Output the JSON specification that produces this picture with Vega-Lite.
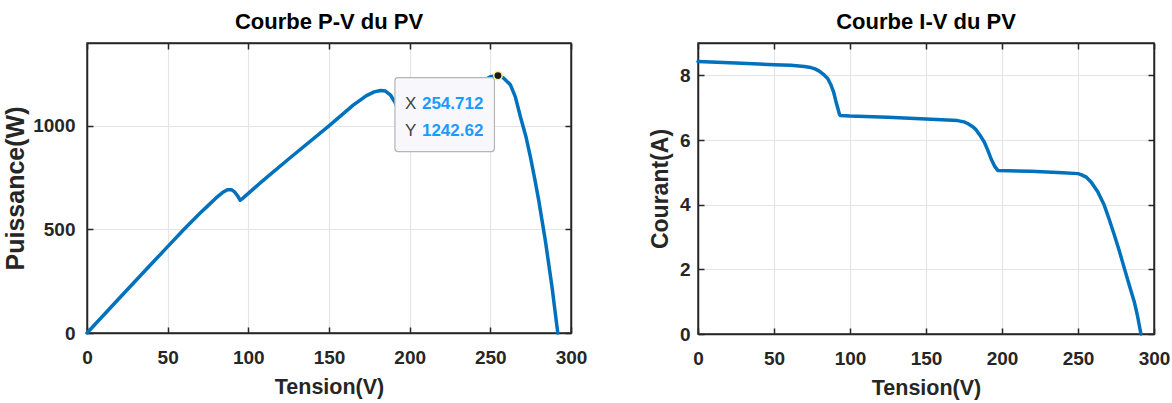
{
  "$schema": "https://vega.github.io/schema/vega-lite/v6.json",
  "background": "white",
  "padding": {"left": 2, "top": 10, "right": 3, "bottom": 0},
  "spacing": 60,
  "config": {
    "view": {"stroke": "#262626", "strokeWidth": 1.5},
    "axis": {
      "domainColor": "#262626", "domainWidth": 1.5,
      "tickColor": "#262626", "tickWidth": 1.5, "tickSize": -6,
      "gridColor": "#e4e4e4", "gridWidth": 1.2, "labelFlush": false,
      "labelFont": "Liberation Sans", "labelFontWeight": "bold", "labelFontSize": 19, "labelColor": "#262626",
      "titleFont": "Liberation Sans", "titleFontWeight": "bold", "titleFontSize": 21.5, "titleColor": "#262626"
    },
    "title": {"font": "Liberation Sans", "fontWeight": "bold", "fontSize": 22, "color": "#000000", "offset": 8}
  },
  "datasets": {
    "pv": [
      {"V": 0, "P": 0}, {"V": 20, "P": 168}, {"V": 40, "P": 334}, {"V": 50, "P": 417}, {"V": 60, "P": 500},
      {"V": 70, "P": 578}, {"V": 75, "P": 615}, {"V": 80, "P": 652}, {"V": 84, "P": 678}, {"V": 87, "P": 692},
      {"V": 89.5, "P": 692}, {"V": 91.5, "P": 681}, {"V": 93.5, "P": 660}, {"V": 95, "P": 641}, {"V": 96.5, "P": 650},
      {"V": 100, "P": 674}, {"V": 107, "P": 722}, {"V": 125, "P": 840}, {"V": 150, "P": 1000}, {"V": 165, "P": 1100},
      {"V": 173, "P": 1145}, {"V": 178, "P": 1164}, {"V": 182, "P": 1171}, {"V": 185, "P": 1168}, {"V": 188, "P": 1150},
      {"V": 191, "P": 1112}, {"V": 194, "P": 1055}, {"V": 197, "P": 1000}, {"V": 200, "P": 1012}, {"V": 225, "P": 1125},
      {"V": 240, "P": 1192}, {"V": 250, "P": 1237}, {"V": 254.712, "P": 1242.62}, {"V": 258, "P": 1232}, {"V": 262.4, "P": 1199},
      {"V": 265.5, "P": 1140}, {"V": 268.6, "P": 1045}, {"V": 272, "P": 950}, {"V": 274.8, "P": 851}, {"V": 277.5, "P": 745},
      {"V": 280, "P": 640}, {"V": 284.1, "P": 446}, {"V": 288.3, "P": 219}, {"V": 291.8, "P": 0}
    ],
    "iv": [
      {"V": 0, "I": 8.43}, {"V": 25, "I": 8.38}, {"V": 50, "I": 8.33}, {"V": 61, "I": 8.31}, {"V": 70, "I": 8.27},
      {"V": 74.3, "I": 8.24}, {"V": 77, "I": 8.2}, {"V": 79.8, "I": 8.13}, {"V": 82.5, "I": 8.03}, {"V": 85.3, "I": 7.9},
      {"V": 87.5, "I": 7.7}, {"V": 89.3, "I": 7.47}, {"V": 90.7, "I": 7.2}, {"V": 91.9, "I": 7.0}, {"V": 93, "I": 6.8},
      {"V": 93.6, "I": 6.76}, {"V": 100, "I": 6.74}, {"V": 125, "I": 6.7}, {"V": 150, "I": 6.65}, {"V": 170.8, "I": 6.6},
      {"V": 175, "I": 6.56}, {"V": 177.4, "I": 6.51}, {"V": 180.5, "I": 6.42}, {"V": 182.9, "I": 6.32}, {"V": 185.5, "I": 6.15},
      {"V": 188.4, "I": 5.93}, {"V": 190.7, "I": 5.68}, {"V": 192.8, "I": 5.42}, {"V": 195, "I": 5.2}, {"V": 197.2, "I": 5.06},
      {"V": 219, "I": 5.03}, {"V": 240, "I": 4.99}, {"V": 250, "I": 4.96}, {"V": 252, "I": 4.93}, {"V": 255.5, "I": 4.85},
      {"V": 258.6, "I": 4.7}, {"V": 263, "I": 4.4}, {"V": 267.3, "I": 3.98}, {"V": 270.5, "I": 3.55}, {"V": 273.9, "I": 3.06},
      {"V": 277.3, "I": 2.55}, {"V": 280.5, "I": 2.03}, {"V": 283.8, "I": 1.5}, {"V": 287, "I": 1.0}, {"V": 289.2, "I": 0.55},
      {"V": 291.4, "I": 0}
    ],
    "tip": [
      {"V": 254.712, "P": 1242.62, "xl": "X", "yl": "Y", "xv": "254.712", "yv": "1242.62"}
    ]
  },
  "hconcat": [
    {
      "width": 484,
      "height": 290,
      "title": "Courbe P-V du PV",
      "resolve": {"axis": {"x": "independent", "y": "independent"}},
      "layer": [
        {
          "data": {"name": "pv"},
          "mark": {"type": "line", "color": "#0072BD", "strokeWidth": 3.5, "strokeCap": "round", "strokeJoin": "round"},
          "encoding": {
            "x": {"field": "V", "type": "quantitative", "scale": {"domain": [0, 300], "nice": false},
                  "axis": {"title": "Tension(V)", "values": [0, 50, 100, 150, 200, 250, 300], "labelPadding": 21, "titlePadding": 9}},
            "y": {"field": "P", "type": "quantitative", "scale": {"domain": [0, 1400], "nice": false},
                  "axis": {"title": "Puissance(W)", "values": [0, 500, 1000], "format": "d", "labelPadding": 18, "titlePadding": 4,
                           "titleFontSize": 25}}
          }
        },
        {
          "data": {"name": "pv"},
          "mark": {"type": "line", "opacity": 0},
          "encoding": {
            "x": {"field": "V", "type": "quantitative",
                  "axis": {"orient": "top", "labels": false, "title": null, "grid": false, "values": [0, 50, 100, 150, 200, 250, 300]}},
            "y": {"field": "P", "type": "quantitative",
                  "axis": {"orient": "right", "labels": false, "title": null, "grid": false, "values": [0, 500, 1000]}}
          }
        },
        {
          "data": {"name": "tip"},
          "mark": {"type": "rect", "fill": "#f8f8fc", "stroke": "#b5b5b5", "strokeWidth": 1.2, "cornerRadius": 3,
                   "xOffset": -103, "x2Offset": -3.5, "yOffset": 2, "y2Offset": 76},
          "encoding": {
            "x": {"field": "V", "type": "quantitative", "axis": null},
            "x2": {"field": "V"},
            "y": {"field": "P", "type": "quantitative", "axis": null},
            "y2": {"field": "P"}
          }
        },
        {
          "data": {"name": "tip"},
          "mark": {"type": "text", "align": "left", "baseline": "alphabetic", "dx": -93, "dy": 33,
                   "font": "Liberation Sans", "fontSize": 17, "color": "#404040"},
          "encoding": {
            "x": {"field": "V", "type": "quantitative", "axis": null},
            "y": {"field": "P", "type": "quantitative", "axis": null},
            "text": {"field": "xl"}
          }
        },
        {
          "data": {"name": "tip"},
          "mark": {"type": "text", "align": "left", "baseline": "alphabetic", "dx": -93, "dy": 60,
                   "font": "Liberation Sans", "fontSize": 17, "color": "#404040"},
          "encoding": {
            "x": {"field": "V", "type": "quantitative", "axis": null},
            "y": {"field": "P", "type": "quantitative", "axis": null},
            "text": {"field": "yl"}
          }
        },
        {
          "data": {"name": "tip"},
          "mark": {"type": "text", "align": "left", "baseline": "alphabetic", "dx": -76, "dy": 33,
                   "font": "Liberation Sans", "fontSize": 17, "fontWeight": "bold", "color": "#1a9cff"},
          "encoding": {
            "x": {"field": "V", "type": "quantitative", "axis": null},
            "y": {"field": "P", "type": "quantitative", "axis": null},
            "text": {"field": "xv"}
          }
        },
        {
          "data": {"name": "tip"},
          "mark": {"type": "text", "align": "left", "baseline": "alphabetic", "dx": -76, "dy": 60,
                   "font": "Liberation Sans", "fontSize": 17, "fontWeight": "bold", "color": "#1a9cff"},
          "encoding": {
            "x": {"field": "V", "type": "quantitative", "axis": null},
            "y": {"field": "P", "type": "quantitative", "axis": null},
            "text": {"field": "yv"}
          }
        },
        {
          "data": {"name": "tip"},
          "mark": {"type": "point", "filled": true, "fill": "#1a1a1a", "stroke": "#f3eda0", "strokeWidth": 1.5, "size": 70, "opacity": 1},
          "encoding": {
            "x": {"field": "V", "type": "quantitative", "axis": null},
            "y": {"field": "P", "type": "quantitative", "axis": null}
          }
        }
      ]
    },
    {
      "width": 456,
      "height": 291,
      "title": "Courbe I-V du PV",
      "resolve": {"axis": {"x": "independent", "y": "independent"}},
      "layer": [
        {
          "data": {"name": "iv"},
          "mark": {"type": "line", "color": "#0072BD", "strokeWidth": 3.5, "strokeCap": "round", "strokeJoin": "round"},
          "encoding": {
            "x": {"field": "V", "type": "quantitative", "scale": {"domain": [0, 300], "nice": false},
                  "axis": {"title": "Tension(V)", "values": [0, 50, 100, 150, 200, 250, 300], "labelPadding": 21, "titlePadding": 9}},
            "y": {"field": "I", "type": "quantitative", "scale": {"domain": [0, 9], "nice": false},
                  "axis": {"title": "Courant(A)", "values": [0, 2, 4, 6, 8], "labelPadding": 14, "titlePadding": 7,
                           "titleFontSize": 23}}
          }
        },
        {
          "data": {"name": "iv"},
          "mark": {"type": "line", "opacity": 0},
          "encoding": {
            "x": {"field": "V", "type": "quantitative",
                  "axis": {"orient": "top", "labels": false, "title": null, "grid": false, "values": [0, 50, 100, 150, 200, 250, 300]}},
            "y": {"field": "I", "type": "quantitative",
                  "axis": {"orient": "right", "labels": false, "title": null, "grid": false, "values": [0, 2, 4, 6, 8]}}
          }
        }
      ]
    }
  ]
}
